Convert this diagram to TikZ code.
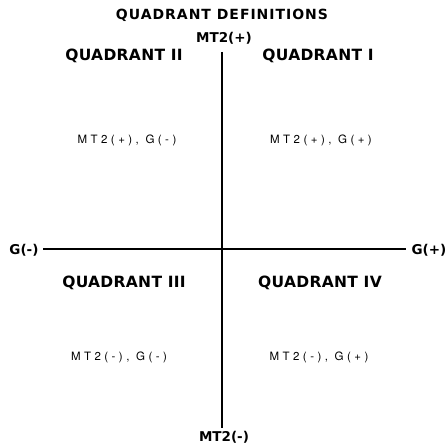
\documentclass[tikz,border=0pt]{standalone}
\usepackage{fontspec}
\setmainfont{TeX Gyre Heros}
\newfontfamily\headfont{DejaVu Sans}
\begin{document}
\begin{tikzpicture}[x=1pt,y=-1pt,
  head/.style={font=\headfont\bfseries\fontsize{14}{16}\selectfont\addfontfeature{LetterSpace=7}, inner sep=0pt},
  qhead/.style={font=\headfont\bfseries\fontsize{15.5}{17}\selectfont\addfontfeature{LetterSpace=2}, inner sep=0pt},
  axis/.style={font=\headfont\bfseries\fontsize{13.5}{16}\selectfont, inner sep=0pt},
  sub/.style={font=\fontsize{11.5}{13}\selectfont\addfontfeature{LetterSpace=30}, inner sep=0pt},
  ax/.style={line width=1.6pt}]
\useasboundingbox (0,0) rectangle (445,443);
\node[head] (title) at (222,15) {QUADRANT DEFINITIONS};
\node[axis] (top) at (224,38) {MT2(+)};
\node[axis] (bot) at (224,437) {MT2(-)};
\node[axis] (left) at (24,250) {G(-)};
\node[axis] (right) at (429,250) {G(+)};
\coordinate (vt) at (222,52);
\coordinate (vb) at (222,428);
\coordinate (hl) at (43,249);
\coordinate (hr) at (406,249);
\draw[ax] (vt) -- (vb);
\draw[ax] (hl) -- (hr);
\node[qhead] (q2) at (124,56) {QUADRANT II};
\node[qhead] (q1) at (318,56) {QUADRANT I};
\node[qhead] (q3) at (124,283) {QUADRANT III};
\node[qhead] (q4) at (320,283) {QUADRANT IV};
\node[sub] (d2) at (127,140) {MT2(+), G(-)};
\node[sub] (d1) at (321,140) {MT2(+), G(+)};
\node[sub] (d3) at (119,357) {MT2(-), G(-)};
\node[sub] (d4) at (319,357) {MT2(-), G(+)};
\end{tikzpicture}
\end{document}
